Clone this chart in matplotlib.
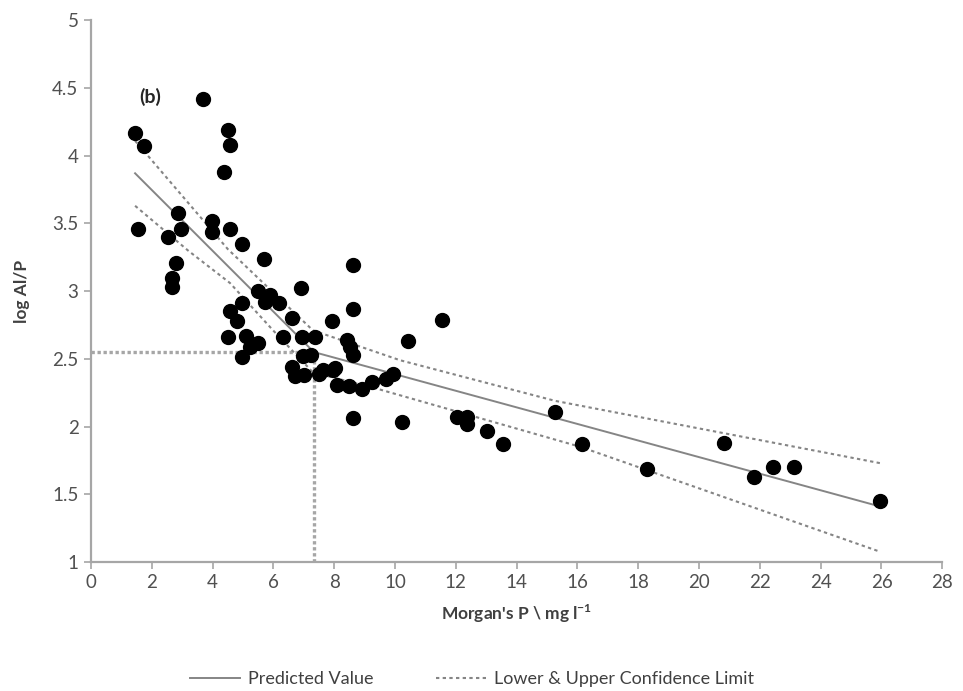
import numpy as np
import matplotlib
matplotlib.use("Agg")
import matplotlib.pyplot as plt
from matplotlib.ticker import FormatStrFormatter, MultipleLocator

plt.rcParams['font.family'] = ['Lato', 'DejaVu Sans']
plt.rcParams['mathtext.fontset'] = 'custom'
plt.rcParams['mathtext.rm'] = 'Lato'
plt.rcParams['mathtext.bf'] = 'Lato:bold'

# observed points: Morgan's P (mg/l) and log Al/P
morgan_p = [1.45, 1.74, 1.55, 3.69, 4.50, 4.57, 4.38, 3.98, 3.98, 4.57,
            2.86, 2.96, 2.53, 2.80, 2.66, 2.66, 4.97, 5.70, 5.49, 5.89,
            5.72, 6.18, 6.90, 4.97, 4.57, 4.80, 6.60, 7.93, 4.50, 5.10,
            5.49, 5.23, 6.32, 6.94, 7.37, 4.97, 6.97, 7.24, 6.60, 6.71,
            7.00, 7.50, 7.96, 8.09, 8.62, 8.62, 11.55, 10.43, 8.42, 8.52,
            8.62, 8.49, 8.91, 9.24, 9.70, 9.93, 8.62, 10.23, 12.04, 12.37,
            12.37, 15.26, 13.03, 13.55, 16.15, 18.29, 20.82, 21.80, 22.43, 23.13,
            25.95, 7.63, 8.03]
log_alp = [4.17, 4.07, 3.46, 4.42, 4.19, 4.08, 3.88, 3.52, 3.44, 3.46,
           3.58, 3.46, 3.40, 3.21, 3.10, 3.03, 3.35, 3.24, 3.00, 2.97,
           2.92, 2.91, 3.02, 2.91, 2.85, 2.78, 2.80, 2.78, 2.66, 2.67,
           2.62, 2.59, 2.66, 2.66, 2.66, 2.51, 2.52, 2.53, 2.44, 2.37,
           2.38, 2.39, 2.42, 2.31, 3.19, 2.87, 2.79, 2.63, 2.64, 2.59,
           2.53, 2.30, 2.28, 2.33, 2.35, 2.39, 2.06, 2.03, 2.07, 2.07,
           2.02, 2.11, 1.97, 1.87, 1.87, 1.69, 1.88, 1.63, 1.70, 1.70,
           1.45, 2.42, 2.43]

# predicted (broken-stick) line
pred_x = [1.45, 7.33, 25.95]
pred_y = [3.87, 2.55, 1.41]

# confidence limits
upper_x = [1.45, 4.50, 7.30, 10.16, 15.26, 25.95]
upper_y = [4.11, 3.31, 2.71, 2.49, 2.19, 1.73]
lower_x = [1.45, 3.19, 4.57, 5.99, 7.30, 9.40, 16.10, 25.90]
lower_y = [3.63, 3.30, 3.06, 2.71, 2.40, 2.28, 1.85, 1.08]

# change point
break_x = 7.33
break_y = 2.55

fig = plt.figure(figsize=(9.63, 6.91), dpi=100)
ax = fig.add_axes([0.0945, 0.1867, 0.884, 0.784])

grey = '#858585'
ax.plot([0, break_x], [break_y, break_y], color='#a6a6a6', lw=2.4,
        linestyle=(0, (1, 0.8)), zorder=1)
ax.plot([break_x, break_x], [1, break_y], color='#a6a6a6', lw=2.4,
        linestyle=(0, (1, 0.8)), zorder=1)

ax.plot(pred_x, pred_y, color=grey, lw=1.4, label='Predicted Value', zorder=2)
ax.plot(upper_x, upper_y, color=grey, lw=1.5, linestyle=(0, (1.6, 1.6)),
        label='Lower & Upper Confidence Limit', zorder=2)
ax.plot(lower_x, lower_y, color=grey, lw=1.5, linestyle=(0, (1.6, 1.6)), zorder=2)

ax.scatter(morgan_p, log_alp, s=100, color='black', zorder=3)

ax.set_xlim(0, 28)
ax.set_ylim(1, 5)
ax.xaxis.set_major_locator(MultipleLocator(2))
ax.yaxis.set_major_locator(MultipleLocator(0.5))
ax.yaxis.set_major_formatter(FormatStrFormatter('%g'))

for side in ['top', 'right']:
    ax.spines[side].set_visible(False)
for side in ['left', 'bottom']:
    ax.spines[side].set_color('#a6a6a6')
    ax.spines[side].set_linewidth(1.6)
ax.tick_params(direction='out', length=5, width=1.2, color='#a6a6a6',
               labelcolor='#505050', labelsize=13.5, pad=4)

ax.set_xlabel(r"Morgan's P \ mg l$^{\mathbf{-1}}$", fontsize=12.5, fontweight='bold',
              color='#404040', labelpad=8)
ax.set_ylabel('log Al/P', fontsize=12.5, fontweight='bold', color='#404040', labelpad=16)

ax.text(1.94, 4.43, '(b)', fontsize=14, fontweight='bold', color='#262626',
        ha='center', va='center')

fig.legend(loc='lower center', ncol=2, frameon=False, fontsize=13,
           bbox_to_anchor=(0.49, -0.018), handlelength=2.8, handletextpad=0.4,
           columnspacing=3.5, labelcolor='#404040')

fig.savefig('out.png', dpi=100)
